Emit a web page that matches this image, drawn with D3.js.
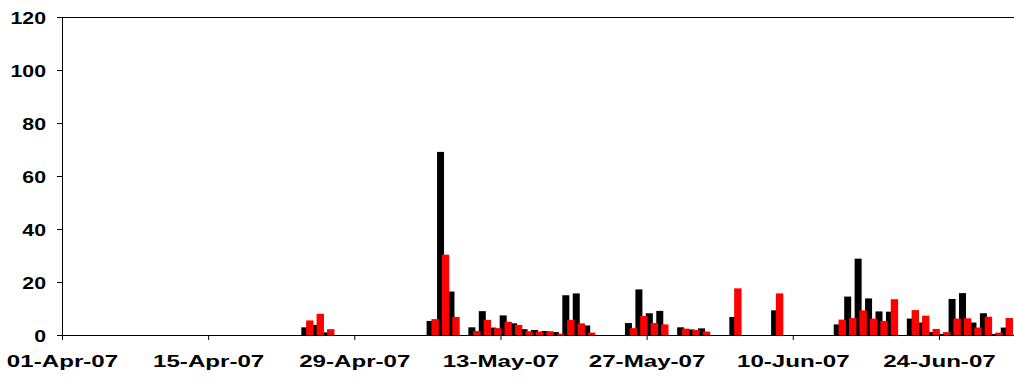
<!DOCTYPE html>
<html><head><meta charset="utf-8">
<script src="https://cdn.jsdelivr.net/npm/d3@7"></script>
<style>body{margin:0;background:#fff}svg{display:block}</style>
</head><body>
<script>
const dates = ["2007-04-24","2007-04-25","2007-04-26","2007-05-06","2007-05-07","2007-05-08","2007-05-10","2007-05-11","2007-05-12","2007-05-13","2007-05-14","2007-05-15","2007-05-16","2007-05-17","2007-05-18","2007-05-19","2007-05-20","2007-05-21","2007-05-25","2007-05-26","2007-05-27","2007-05-28","2007-05-30","2007-05-31","2007-06-01","2007-06-04","2007-06-08","2007-06-14","2007-06-15","2007-06-16","2007-06-17","2007-06-18","2007-06-19","2007-06-21","2007-06-22","2007-06-23","2007-06-24","2007-06-25","2007-06-26","2007-06-27","2007-06-28","2007-06-29","2007-06-30"];
const blackValues = [2.9,3.8,1.0,5.3,69.1,16.4,2.9,9.0,2.8,7.4,4.4,2.2,1.9,1.5,1.1,15.0,15.7,3.6,4.5,17.2,8.2,9.1,2.9,2.1,2.5,6.8,9.3,4.0,14.5,28.8,13.8,8.9,8.8,6.2,4.7,1.1,0.4,13.6,15.8,4.7,8.2,0.4,2.8];
const redValues = [5.5,8.0,2.2,6.0,30.3,6.8,1.5,5.7,2.6,5.0,3.8,1.4,1.3,1.4,0.5,5.7,4.4,0.9,2.6,7.2,4.5,4.0,2.4,1.9,1.3,17.6,15.7,5.8,6.4,9.3,6.2,5.3,13.5,9.4,7.3,2.3,1.1,6.2,6.3,2.8,6.9,0.9,6.4];
const xTickDates = ["2007-04-01","2007-04-15","2007-04-29","2007-05-13","2007-05-27","2007-06-10","2007-06-24"];
const yTicks = [0,20,40,60,80,100,120];
const xDomain = ["2007-04-01","2007-07-01"];

const W = 1014, H = 383;
const parse = d3.utcParse("%Y-%m-%d");
const fmt = d3.utcFormat("%d-%b-%y");
const L = 62, R = 1012, T = 17, B = 335;

const x = d3.scaleUtc().domain(xDomain.map(parse)).range([L, R]);
const y = d3.scaleLinear().domain([0, 120]).range([B, T]);

const svg = d3.select("body").append("svg").attr("width", W).attr("height", H);

const rows = dates.map((d, i) => ({d: parse(d), b: blackValues[i], r: redValues[i]}));
const center = d => (x(d) + x(d3.utcDay.offset(d, 1))) / 2;

// plot frame top
svg.append("path").attr("d", `M${L},${T + 0.5}H${W}`).attr("fill","none").attr("stroke","#000").attr("stroke-width",1);

svg.append("g").selectAll("rect").data(rows).join("rect")
  .attr("x", d => center(d.d) - 6).attr("width", 7)
  .attr("y", d => y(d.b)).attr("height", d => y(0) - y(d.b))
  .attr("fill", "#000");
svg.append("g").selectAll("rect").data(rows).join("rect")
  .attr("x", d => center(d.d) - 1.2).attr("width", 7.4)
  .attr("y", d => y(d.r)).attr("height", d => y(0) - y(d.r))
  .attr("fill", "#ff0000");

// y axis
const ya = svg.append("g").attr("transform", `translate(${L},0)`)
  .call(d3.axisLeft(y).tickValues(yTicks).tickSize(5).tickPadding(0).tickFormat(d3.format("d")));
ya.select(".domain").attr("stroke","#000").attr("d", `M0.5,${T}V${B}`);
ya.selectAll(".tick line").attr("stroke","#000");
ya.selectAll(".tick text").text(null);
ya.selectAll(".tick").append("text")
  .attr("transform","translate(-16,6) scale(1.33,1)")
  .attr("text-anchor","end")
  .attr("fill","#000")
  .style("font-family","'Liberation Sans', Arial, sans-serif")
  .style("font-weight","bold").style("font-size","16px")
  .text(d => d);

// x axis
const xa = svg.append("g").attr("transform", `translate(0,${B})`)
  .call(d3.axisBottom(x).tickValues(xTickDates.map(parse)).tickSize(5).tickFormat(fmt));
xa.select(".domain").attr("stroke","#000").attr("d", `M${L},0.5H${W}`);
xa.selectAll(".tick line").attr("stroke","#000");
xa.selectAll(".tick text").remove();
xa.selectAll(".tick").append("text")
  .attr("transform","translate(0,32) scale(1.42,1)")
  .attr("text-anchor","middle")
  .attr("fill","#000")
  .style("font-family","'Liberation Sans', Arial, sans-serif")
  .style("font-weight","bold").style("font-size","17px")
  .text(d => fmt(d));
</script>
</body></html>
